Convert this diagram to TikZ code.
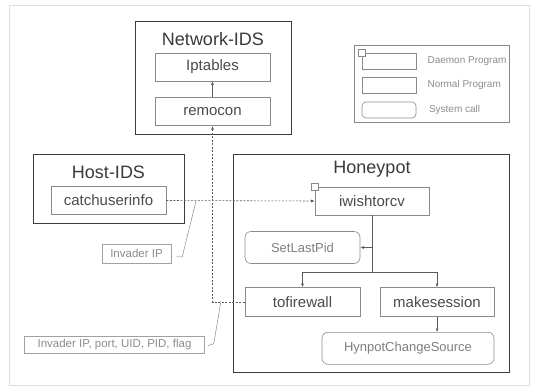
\documentclass[tikz,border=0pt]{standalone}
\usepackage{fontspec}
\setmainfont{Liberation Sans}
\usetikzlibrary{arrows.meta}

\definecolor{framegray}{HTML}{3C3C3C}
\definecolor{boxgray}{HTML}{8A8A8A}
\definecolor{linegray}{HTML}{5A5A5A}
\definecolor{titletext}{HTML}{3A3A3A}
\definecolor{progtext}{HTML}{4A4A4A}
\definecolor{calltext}{HTML}{7E7E7E}
\definecolor{notetext}{HTML}{8C8C8C}

\begin{document}
\begin{tikzpicture}[x=1pt,y=-1pt,
    groupbox/.style={draw=framegray,line width=1pt,inner sep=0},
    grouptitle/.style={font=\fontsize{18}{18}\selectfont,text=titletext},
    progbox/.style={draw=boxgray,line width=0.6pt,inner sep=0,font=\fontsize{15}{15}\selectfont,text=progtext},
    callbox/.style={progbox,rounded corners=6pt,font=\fontsize{13}{13}\selectfont,text=calltext},
    daemonmark/.style={draw=boxgray,fill=white,line width=0.6pt,minimum size=7pt,inner sep=0},
    legendtext/.style={anchor=west,font=\fontsize{10}{10}\selectfont,text=notetext},
    notebox/.style={draw=boxgray!80,line width=0.5pt,inner sep=0,text=notetext,font=\fontsize{11.5}{11.5}\selectfont},
    noteline/.style={draw=boxgray,line width=0.5pt},
    flow/.style={draw=linegray,line width=0.6pt,-{Latex[length=3.5pt,width=2.8pt]}},
    ipflow/.style={flow,dash pattern=on 2pt off 1.5pt}
  ]
    \pgfmathsetmacro{\progwidth}{115}
    \pgfmathsetmacro{\progheight}{28}
    \pgfmathsetmacro{\callheight}{32}
    \useasboundingbox (0,0) rectangle (533,386);
    % faint page frame
    \draw[gray!25,line width=0.8pt] (9,5) rectangle (529,385);

    % Network-IDS
    \node[groupbox,minimum width=156pt,minimum height=113pt] (netids) at (213,77.5) {};
    \node[grouptitle] (nettitle) at (213,39.5) {Network-IDS};
    \node[progbox,minimum width=\progwidth pt,minimum height=\progheight pt] (iptables) at (212.5,67) {Iptables};
    \node[progbox,minimum width=\progwidth pt,minimum height=\progheight pt] (remocon) at (212.5,111.7) {remocon};

    % legend
    \node[draw=boxgray,line width=0.6pt,minimum width=155pt,minimum height=77pt] (legend) at (431.5,83.5) {};
    \node[progbox,minimum width=54pt,minimum height=16pt] (legdaemon) at (389,61.3) {};
    \node[daemonmark] (legmark) at (legdaemon.north west) {};
    \node[progbox,minimum width=54pt,minimum height=16pt] (legnormal) at (389,85.3) {};
    \node[callbox,rounded corners=4pt,minimum width=54pt,minimum height=16pt] (legcall) at (389,110) {};
    \node[legendtext] (legdaemontext) at (424,61.3) {Daemon Program};
    \node[legendtext] (legnormaltext) at (424,85.3) {Normal Program};
    \node[legendtext] (legcalltext) at (425.5,110) {System call};

    % Host-IDS
    \node[groupbox,minimum width=151pt,minimum height=69pt] (hostids) at (108.5,188.5) {};
    \node[grouptitle] (hosttitle) at (108.5,172.5) {Host-IDS};
    \node[progbox,minimum width=\progwidth pt,minimum height=\progheight pt] (catchuserinfo) at (108.5,200.5) {catchuserinfo};

    % Honeypot
    \node[groupbox,minimum width=276pt,minimum height=218pt] (honeypot) at (371,263.3) {};
    \node[grouptitle] (honeytitle) at (372,169.5) {Honeypot};
    \node[progbox,minimum width=114pt,minimum height=\progheight pt] (iwishtorcv) at (372,201) {iwishtorcv};
    \node[daemonmark] (iwishmark) at (iwishtorcv.north west) {};
    \node[callbox,minimum width=\progwidth pt,minimum height=\callheight pt] (setlastpid) at (302.5,247.5) {SetLastPid};
    \node[progbox,minimum width=\progwidth pt,minimum height=29pt] (tofirewall) at (302.5,302) {tofirewall};
    \node[progbox,minimum width=114pt,minimum height=29pt] (makesession) at (437,302) {makesession};
    \node[callbox,minimum width=172pt,minimum height=\callheight pt] (hynpot) at (408,348.3) {HynpotChangeSource};

    % notes
    \node[notebox,minimum width=69pt,minimum height=19pt] (invip) at (136.5,253.8) {Invader IP};
    \node[notebox,minimum width=180pt,minimum height=17pt] (invall) at (114.5,344.7) {Invader IP, port, UID, PID, flag};
    \coordinate (ipmark) at (196,201);
    \coordinate (flagmark) at (221,301);

    % connectors
    \draw[flow] (remocon.north) -- (iptables.south);
    \draw[ipflow] (catchuserinfo.east) -- (iwishtorcv.west);
    \draw[ipflow] (tofirewall.west) -| (remocon.south);
    \coordinate (fork) at (372,272.3);
    \draw[draw=linegray,line width=0.6pt] (iwishtorcv.south) -- (fork);
    \draw[flow] (iwishtorcv.south |- setlastpid.east) -- (setlastpid.east);
    \draw[flow] (fork) -| (tofirewall.north);
    \draw[flow] (fork) -| (makesession.north);
    \draw[flow] (makesession.south) -- (makesession.south |- hynpot.north);
    \draw[noteline] ([xshift=5pt,yshift=-3pt]invip.east) -- ++(6,0) -- (ipmark);
    \draw[noteline] ([xshift=3pt,yshift=-1pt]invall.east) -- ++(6,-2) -- (flagmark);
\end{tikzpicture}
\end{document}
